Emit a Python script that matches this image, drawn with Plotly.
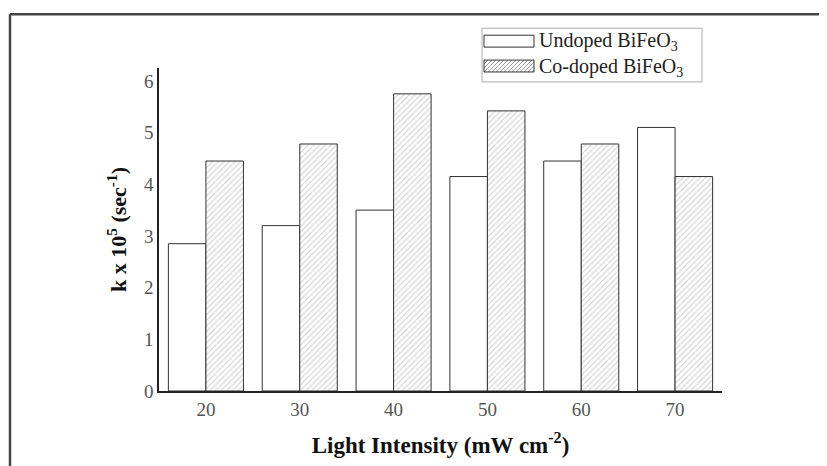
import plotly.graph_objects as go

intensity = [20, 30, 40, 50, 60, 70]
undoped = [2.85, 3.2, 3.5, 4.15, 4.45, 5.1]
codoped = [4.45, 4.78, 5.75, 5.42, 4.78, 4.15]
y_ticks = [0, 1, 2, 3, 4, 5, 6]

FONT = "Liberation Serif"
fig = go.Figure()
fig.add_trace(go.Bar(
    x=intensity, y=undoped, name="Undoped BiFeO3",
    marker=dict(color="white", line=dict(color="#333333", width=1)),
    showlegend=False,
))
fig.add_trace(go.Bar(
    x=intensity, y=codoped, name="Co-doped BiFeO3",
    marker=dict(color="white", line=dict(color="#333333", width=1),
                pattern=dict(shape="/", fgcolor="#9a9a9a", bgcolor="white", size=4, solidity=0.25)),
    showlegend=False,
))

# page offset of the plot div (body margin)
OFF = 8
W, H = 827 - OFF, 466 - OFF
L, T = 159 - OFF, 68 - OFF
R = W - (722 - OFF)
B = H - (393 - OFF)
pw, ph = W - L - R, H - T - B

def px(xp):
    return (xp - OFF - L) / pw

def py(yp):
    return (H - B - (yp - OFF)) / ph

shapes = []
# outer frame (top and left)
shapes.append(dict(type="line", xref="paper", yref="paper", x0=px(10), x1=px(840), y0=py(14), y1=py(14),
                   line=dict(color="#444444", width=2.5)))
shapes.append(dict(type="line", xref="paper", yref="paper", x0=px(10), x1=px(10), y0=py(14), y1=py(480),
                   line=dict(color="#444444", width=2.5)))
# legend box
shapes.append(dict(type="rect", xref="paper", yref="paper", x0=px(482), x1=px(702), y0=py(82), y1=py(28),
                   line=dict(color="#aaaaaa", width=1), fillcolor="white"))
# swatch 1
shapes.append(dict(type="rect", xref="paper", yref="paper", x0=px(484), x1=px(534), y0=py(47), y1=py(35),
                   line=dict(color="#333333", width=1), fillcolor="white"))
# swatch 2 with hatch
sx0, sx1, sy0, sy1 = 484, 534, 60, 72
step = 4
k = sx0 - (sy1 - sy0)
while k < sx1:
    xa, ya = k, sy1
    xb, yb = k + (sy1 - sy0), sy0
    if xa < sx0:
        ya = sy1 - (sx0 - xa)
        xa = sx0
    if xb > sx1:
        yb = sy0 + (xb - sx1)
        xb = sx1
    shapes.append(dict(type="line", xref="paper", yref="paper", x0=px(xa), x1=px(xb), y0=py(ya), y1=py(yb),
                       line=dict(color="#9a9a9a", width=1)))
    k += step
shapes.append(dict(type="rect", xref="paper", yref="paper", x0=px(sx0), x1=px(sx1), y0=py(sy1), y1=py(sy0),
                   line=dict(color="#333333", width=1)))

annotations = [
    dict(xref="paper", yref="paper", x=px(537), y=py(41), xanchor="left", yanchor="middle", showarrow=False,
         text="Undoped BiFeO<sub>3</sub>", font=dict(family=FONT, size=20, color="#222222")),
    dict(xref="paper", yref="paper", x=px(537), y=py(67), xanchor="left", yanchor="middle", showarrow=False,
         text="Co-doped BiFeO<sub>3</sub>", font=dict(family=FONT, size=20, color="#222222")),
]

fig.update_layout(
    width=W, height=H,
    margin=dict(l=L, r=R, t=T, b=B),
    paper_bgcolor="white", plot_bgcolor="white",
    barmode="group", bargap=0.2, bargroupgap=0,
    shapes=shapes, annotations=annotations,
    font=dict(family=FONT),
    xaxis=dict(
        range=[15, 75], tickvals=intensity, ticktext=[str(v) for v in intensity],
        showgrid=False, zeroline=False, showline=True, linecolor="#222222", linewidth=1.5,
        ticks="", tickfont=dict(family=FONT, size=19, color="#555555"),
        title=dict(text="<b>Light Intensity (mW cm<sup>-2</sup>)</b>", font=dict(family=FONT, size=23, color="#111111"),
                   standoff=18),
    ),
    yaxis=dict(
        range=[0, 6.25], tickvals=y_ticks,
        showgrid=False, zeroline=False, showline=True, linecolor="#222222", linewidth=1.5,
        ticks="", ticklabelstandoff=0, tickfont=dict(family=FONT, size=19, color="#555555"),
        title=dict(text="<b>k x 10<sup>5</sup> (sec<sup>-1</sup>)</b>", font=dict(family=FONT, size=22, color="#111111"),
                   standoff=11),
    ),
)

fig.write_html("out.html")
